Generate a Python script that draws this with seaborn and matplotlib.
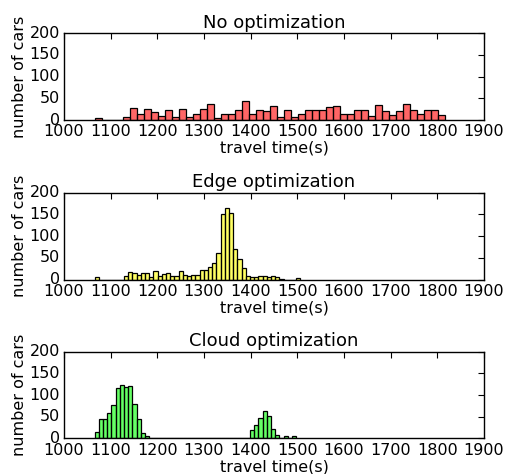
import numpy as np
import pandas as pd
import matplotlib
matplotlib.use("Agg")
import matplotlib.pyplot as plt
import seaborn as sns

# ---- data ----
noopt_start = 1066.0
noopt_width = 15.0
noopt_counts = [4, 0, 0, 0, 8, 28, 15, 26, 19, 10,
                22, 8, 26, 8, 15, 26, 38, 5, 15, 13,
                22, 44, 13, 22, 20, 32, 8, 24, 8, 15,
                22, 24, 22, 29, 32, 15, 15, 24, 24, 10,
                34, 20, 12, 20, 38, 22, 15, 22, 22, 12]

edge_start = 1065.5
edge_width = 9.0
edge_counts = [5, 0, 0, 0, 0, 0, 0, 7, 17, 16,
               11, 15, 15, 5, 20, 8, 12, 16, 7, 7,
               20, 10, 7, 11, 10, 23, 23, 30, 37, 61,
               151, 164, 153, 71, 47, 27, 9, 5, 5, 7,
               9, 6, 8, 5, 2, 0, 0, 0, 4]

cloud_start = 1065.5
cloud_width = 9.0
cloud_counts = [15, 44, 46, 58, 77, 117, 123, 118, 122, 80,
                44, 12, 5, 0, 0, 0, 0, 0, 0, 0,
                0, 0, 0, 0, 0, 0, 0, 0, 0, 0,
                0, 0, 0, 0, 0, 0, 1, 20, 30, 47,
                63, 53, 23, 8, 0, 5, 0, 5]

titles = ["No optimization", "Edge optimization", "Cloud optimization"]
colors = ["#ff0000", "#ffff00", "#00ff00"]
xticks = list(range(1000, 2000, 100))
yticks = [0, 50, 100, 150, 200]

plt.style.use("classic")
sns.set_style("white", {"xtick.direction": "in", "ytick.direction": "in",
                        "axes.edgecolor": "black", "text.color": "black",
                        "axes.labelcolor": "black", "xtick.color": "black",
                        "ytick.color": "black"})
plt.rcParams['font.family'] = ['DejaVu Sans']

fig = plt.figure(figsize=(5.05, 4.74), dpi=100, facecolor="white")
left, width = 0.1267, 0.8317
bottoms = [0.7468, 0.4103, 0.0749]
height = 0.183

datasets = [(noopt_start, noopt_width, noopt_counts),
            (edge_start, edge_width, edge_counts),
            (cloud_start, cloud_width, cloud_counts)]

for i, ((start, w, counts), title, col) in enumerate(zip(datasets, titles, colors)):
    ax = fig.add_axes([left, bottoms[i], width, height])
    n = len(counts)
    edges = [float(start + w * k) for k in range(n + 1)]
    centers = [(edges[k] + edges[k + 1]) / 2 for k in range(n)]
    df = pd.DataFrame({"t": centers, "n": counts})
    sns.histplot(data=df, x="t", weights="n", bins=edges, ax=ax,
                 color=col, alpha=0.6, edgecolor="black", linewidth=0.9)
    ax.set_xlim(1000, 1900)
    ax.set_ylim(0, 200)
    ax.set_xticks(xticks)
    ax.set_yticks(yticks)
    ax.tick_params(direction="in", top=True, right=True, labelsize=11.5,
                   length=4, width=0.8, colors="black", pad=3)
    for s in ax.spines.values():
        s.set_visible(True)
        s.set_color("black")
        s.set_linewidth(1.0)
    ax.set_title(title, fontsize=13, pad=4, color="black")
    ax.set_xlabel("travel time(s)", fontsize=11.5, labelpad=1, color="black")
    ax.set_ylabel("number of cars", fontsize=11.5, labelpad=2, color="black")
    ax.grid(False)

fig.savefig("out.png", dpi=100, facecolor="white")
